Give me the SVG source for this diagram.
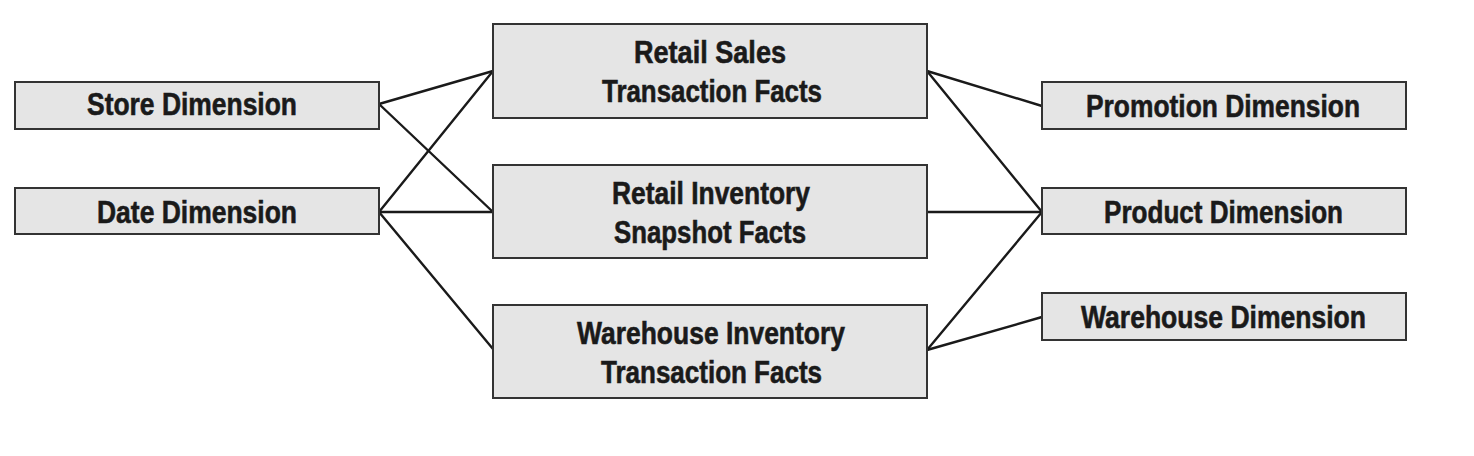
<svg xmlns="http://www.w3.org/2000/svg" width="1474" height="456" viewBox="0 0 1474 456">
<style>
.box{fill:#e5e5e5;stroke:#333;stroke-width:2}
.lbl{font-family:"Liberation Sans",Arial,sans-serif;font-weight:bold;font-size:32px;fill:#1a1a1a;stroke:#1a1a1a;stroke-width:0.6}
.conn line{stroke:#1a1a1a;stroke-width:2.4;stroke-linecap:round}
</style>
<rect width="1474" height="456" fill="#ffffff"/>
<g id="connectors" class="conn">
<line x1="379" y1="104" x2="493" y2="71"/>
<line x1="379" y1="104" x2="493" y2="212"/>
<line x1="379" y1="212" x2="493" y2="71"/>
<line x1="379" y1="212" x2="493" y2="212"/>
<line x1="379" y1="212" x2="493" y2="349"/>
<line x1="927" y1="71" x2="1042" y2="106"/>
<line x1="927" y1="71" x2="1042" y2="212"/>
<line x1="927" y1="212" x2="1042" y2="212"/>
<line x1="927" y1="350" x2="1042" y2="212"/>
<line x1="927" y1="350" x2="1042" y2="317"/>
</g>
<g id="store">
<rect class="box" x="15" y="82" width="364" height="47"/>
<text class="lbl" x="87" y="115" textLength="210" lengthAdjust="spacingAndGlyphs">Store Dimension</text>
</g>
<g id="date">
<rect class="box" x="15" y="188" width="364" height="46"/>
<text class="lbl" x="97" y="223" textLength="200" lengthAdjust="spacingAndGlyphs">Date Dimension</text>
</g>
<g id="retail-sales">
<rect class="box" x="493" y="24" width="434" height="94"/>
<text class="lbl" x="634" y="63" textLength="152" lengthAdjust="spacingAndGlyphs">Retail Sales</text>
<text class="lbl" x="602" y="102" textLength="220" lengthAdjust="spacingAndGlyphs">Transaction Facts</text>
</g>
<g id="retail-inventory">
<rect class="box" x="493" y="165" width="434" height="93"/>
<text class="lbl" x="612" y="204" textLength="198" lengthAdjust="spacingAndGlyphs">Retail Inventory</text>
<text class="lbl" x="614" y="243" textLength="192" lengthAdjust="spacingAndGlyphs">Snapshot Facts</text>
</g>
<g id="warehouse-inventory">
<rect class="box" x="493" y="305" width="434" height="93"/>
<text class="lbl" x="577" y="344" textLength="268" lengthAdjust="spacingAndGlyphs">Warehouse Inventory</text>
<text class="lbl" x="601" y="383" textLength="221" lengthAdjust="spacingAndGlyphs">Transaction Facts</text>
</g>
<g id="promotion">
<rect class="box" x="1042" y="82" width="364" height="47"/>
<text class="lbl" x="1086" y="117" textLength="274" lengthAdjust="spacingAndGlyphs">Promotion Dimension</text>
</g>
<g id="product">
<rect class="box" x="1042" y="188" width="364" height="46"/>
<text class="lbl" x="1104" y="223" textLength="239" lengthAdjust="spacingAndGlyphs">Product Dimension</text>
</g>
<g id="warehouse">
<rect class="box" x="1042" y="293" width="364" height="47"/>
<text class="lbl" x="1081" y="328" textLength="285" lengthAdjust="spacingAndGlyphs">Warehouse Dimension</text>
</g>
</svg>
